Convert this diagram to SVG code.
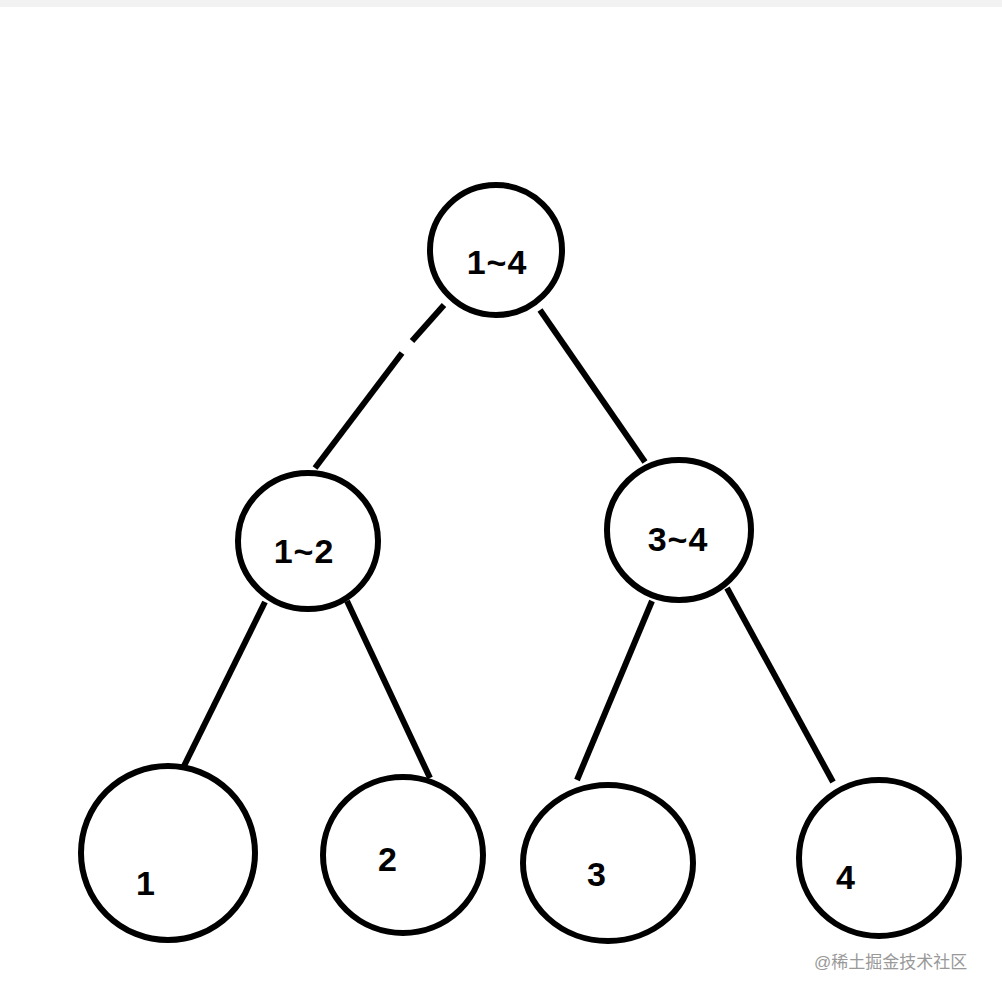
<svg xmlns="http://www.w3.org/2000/svg" width="1002" height="998" viewBox="0 0 1002 998">
<style>
.n{fill:#fff;stroke:#000;stroke-width:6}
.t{font-family:"Liberation Sans",Arial,sans-serif;font-weight:bold;font-size:34px;letter-spacing:1px;text-anchor:middle;fill:#000}
.c line{stroke:#000;stroke-width:6}
.w{font-family:"Liberation Sans","Noto Sans CJK SC",sans-serif;font-size:17px;fill:#999}
</style>
<rect width="1002" height="998" fill="#fff"/>
<rect width="1002" height="7" fill="#f2f2f2"/>
<g class="c">
<line x1="444" y1="305" x2="412" y2="341"/>
<line x1="402" y1="353" x2="315" y2="468"/>
<line x1="540" y1="310" x2="645" y2="462"/>
<line x1="265" y1="602" x2="183" y2="768"/>
<line x1="347" y1="601" x2="430" y2="778"/>
<line x1="652" y1="601" x2="577" y2="780"/>
<line x1="727" y1="588" x2="833" y2="782"/>
</g>
<g id="n14"><ellipse class="n" cx="496" cy="250" rx="66" ry="65"/><text class="t" x="497" y="274">1~4</text></g>
<g id="n12"><ellipse class="n" cx="308" cy="541" rx="70" ry="68"/><text class="t" x="304" y="563">1~2</text></g>
<g id="n34"><ellipse class="n" cx="679" cy="530" rx="72" ry="70"/><text class="t" x="678" y="551">3~4</text></g>
<g id="n1"><ellipse class="n" cx="168" cy="853" rx="87" ry="87"/><text class="t" x="146" y="895">1</text></g>
<g id="n2"><ellipse class="n" cx="403" cy="855" rx="80" ry="78"/><text class="t" x="388" y="871">2</text></g>
<g id="n3"><ellipse class="n" cx="608" cy="863" rx="85" ry="78"/><text class="t" x="597" y="886">3</text></g>
<g id="n4"><ellipse class="n" cx="879" cy="858" rx="80" ry="78"/><text class="t" x="846" y="889">4</text></g>
<text class="w" x="814" y="968">@稀土掘金技术社区</text>
</svg>
